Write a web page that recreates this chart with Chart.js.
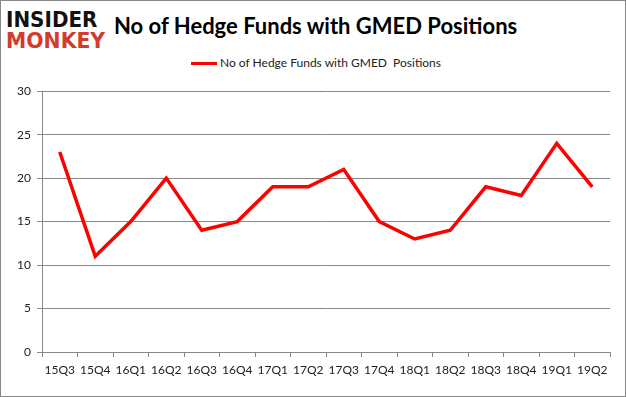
<!DOCTYPE html>
<html>
<head>
<meta charset="utf-8">
<script src="https://cdn.jsdelivr.net/npm/chart.js@4.4.1/dist/chart.umd.min.js"></script>
<style>
  html, body { margin: 0; padding: 0; background: #fff; }
  #wrap { position: relative; width: 626px; height: 397px; box-sizing: border-box; border: 1px solid #888; overflow: hidden; font-family: Lato, "Open Sans", sans-serif; }
  .logo { position: absolute; left: 5px; font-family: "DejaVu Sans", sans-serif; font-weight: bold; font-size: 21px; line-height: 20px; transform-origin: left top; }
  #logo1 { top: 9px; color: #111; transform: scaleX(0.95); }
  #logo2 { top: 30px; color: #d33c2b; transform: scaleX(0.97); }
  #title { position: absolute; top: 11px; left: 113px; font-weight: bold; font-size: 22px; color: #000; white-space: nowrap; }
  #legend { position: absolute; top: 54px; left: 190px; font-size: 12px; color: #222; white-space: nowrap; }
  #legend span.ln { display: inline-block; width: 26px; height: 3px; background: #ff0000; vertical-align: middle; margin-right: 3px; }
  #box { position: absolute; left: 0; top: 77px; width: 626px; height: 320px; }
</style>
</head>
<body>
<div id="wrap">
  <div class="logo" id="logo1">INSIDER</div>
  <div class="logo" id="logo2">MONKEY</div>
  <div id="title">No of Hedge Funds with GMED Positions</div>
  <div id="legend"><span class="ln"></span>No of Hedge Funds with GMED&nbsp; Positions</div>
  <div id="box"><canvas id="grafico"></canvas></div>
</div>
<script>
// dados do gráfico
const quarters = ['15Q3', '15Q4', '16Q1', '16Q2', '16Q3', '16Q4', '17Q1', '17Q2',
                  '17Q3', '17Q4', '18Q1', '18Q2', '18Q3', '18Q4', '19Q1', '19Q2'];
const hedgeFunds = [23, 11, 15, 20, 14, 15, 19, 19, 21, 15, 13, 14, 19, 18, 24, 19];
const yTicks = [0, 5, 10, 15, 20, 25, 30];

document.addEventListener("DOMContentLoaded", function() {
    const canvas = document.getElementById('grafico');
    if (!canvas) return;

    new Chart(canvas.getContext('2d'), {
        type: 'line',
        data: {
            labels: quarters,
            datasets: [{
                label: 'No of Hedge Funds with GMED  Positions',
                data: hedgeFunds,
                borderColor: '#ff0000',
                borderWidth: 3.5,
                pointRadius: 0,
                tension: 0,
                fill: false
            }]
        },
        options: {
            responsive: true,
            maintainAspectRatio: false,
            animation: false,
            layout: { padding: { top: 7, right: 17, left: 0, bottom: 0 } },
            plugins: {
                legend: { display: false },
                tooltip: { enabled: false }
            },
            scales: {
                x: {
                    offset: true,
                    grid: { offset: true, drawOnChartArea: false, color: '#888', tickLength: 5 },
                    border: { color: '#888' },
                    ticks: { color: '#222', font: { family: 'Lato', size: 12 }, maxRotation: 0, autoSkip: false, padding: 6 },
                    afterFit: function(scale) { scale.height = 46; }
                },
                y: {
                    min: 0,
                    max: 30,
                    afterBuildTicks: function(scale) { scale.ticks = yTicks.map(v => ({ value: v })); },
                    grid: { color: '#888', tickLength: 5 },
                    border: { color: '#888' },
                    ticks: { color: '#222', font: { family: 'Lato', size: 12 }, padding: 6 },
                    afterFit: function(scale) { scale.width = 41; }
                }
            }
        }
    });
});
</script>
</body>
</html>
